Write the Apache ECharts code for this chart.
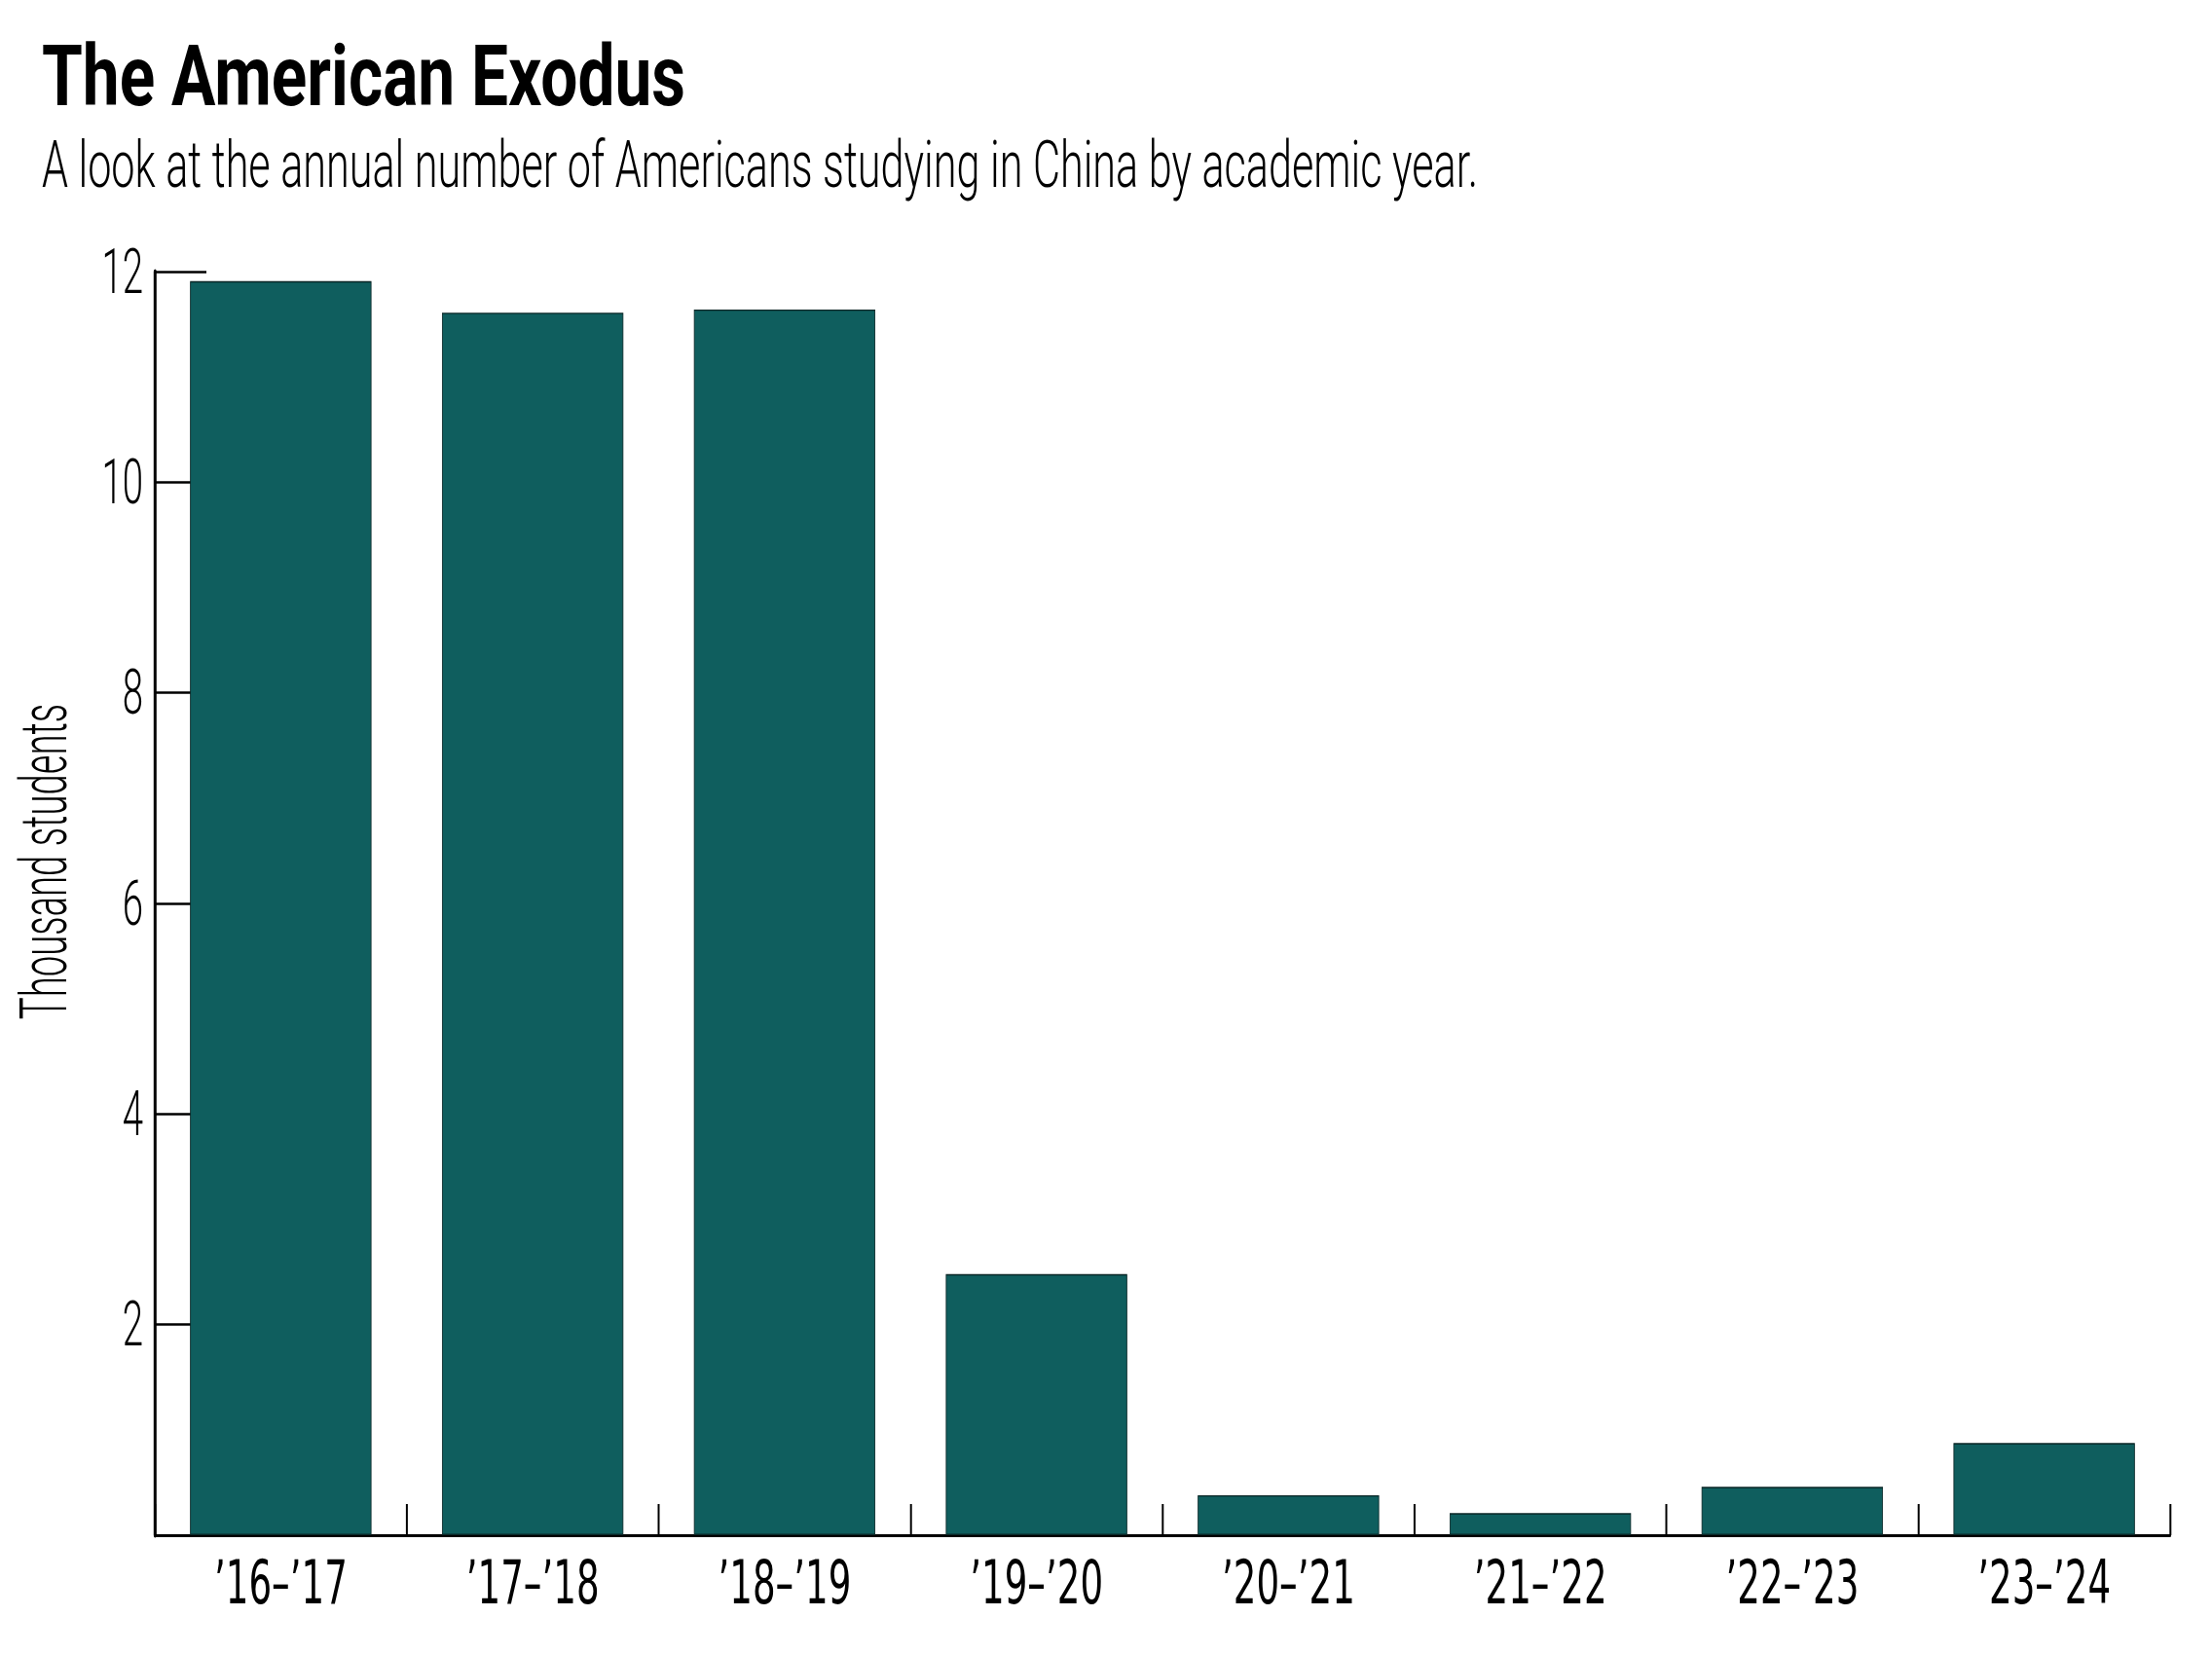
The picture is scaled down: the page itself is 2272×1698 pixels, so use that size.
<!DOCTYPE html>
<html><head><meta charset="utf-8">
<script src="https://cdn.jsdelivr.net/npm/echarts@6/dist/echarts.min.js"></script>
<style>
html,body{margin:0;padding:0;background:#fff;overflow:hidden;width:2272px;height:1698px;}
#chart{position:absolute;left:0;top:0;height:1698px;transform-origin:0 0;}
</style></head><body><div id="chart"></div>
<script>
const titleText = 'The American Exodus';
const subtitleText = 'A look at the annual number of Americans studying in China by academic year.';
const yAxisTitle = 'Thousand students';
const categories = ['’16–’17', '’17–’18', '’18–’19', '’19–’20', '’20–’21', '’21–’22', '’22–’23', '’23–’24'];
const students = [11.91, 11.61, 11.64, 2.48, 0.38, 0.21, 0.46, 0.875];
const yMin = 0, yMax = 12, yStep = 2;

// whole drawing is condensed horizontally (to imitate a condensed typeface)
const S = 0.6;
const W = 2272 / S, H = 1698;
const px = v => v / S;
const el = document.getElementById('chart');
el.style.width = W + 'px';
el.style.transform = 'scaleX(' + S + ')';
const chart = echarts.init(el, null, {renderer: 'svg', width: W, height: H});

const option = {
  animation: false,
  backgroundColor: '#fff',
  grid: {left: px(159), right: px(43), top: 279, bottom: 121, containLabel: false},
  xAxis: {
    type: 'category',
    data: categories,
    axisLine: {lineStyle: {color: '#000', width: 3}},
    axisTick: {show: true, inside: true, length: 32, interval: 0, lineStyle: {color: '#000', width: 2 / S}},
    axisLabel: {color: '#000', fontFamily: 'DejaVu Sans', fontSize: 62, lineHeight: 64, margin: 17, interval: 0}
  },
  yAxis: {
    type: 'value',
    min: yMin, max: yMax, interval: yStep,
    axisLine: {show: true, lineStyle: {color: '#000', width: 3 / S}},
    axisTick: {show: true, inside: true, length: px(53), lineStyle: {color: '#000', width: 2.5}},
    splitLine: {show: false},
    axisLabel: {color: '#000', fontFamily: 'Roboto', fontWeight: 300, fontSize: 64, margin: px(12),
      formatter: v => (v === 0 ? '' : String(v))}
  },
  series: [{
    type: 'bar',
    data: students,
    barCategoryGap: '28%',
    itemStyle: {color: '#0F5E5E', borderColor: '#0a2626', borderWidth: 1.4}
  }],
  graphic: [
    {type: 'text', x: px(43), y: 78, scaleX: 1.28,
      style: {text: titleText, font: 'bold 88px Roboto', fill: '#000', textAlign: 'left', textVerticalAlign: 'middle'}},
    {type: 'text', x: px(43), y: 170, scaleX: 1.09,
      style: {text: subtitleText, font: '300 66px Roboto', fill: '#000', textAlign: 'left', textVerticalAlign: 'middle'}},
    {type: 'text', x: px(45.6), y: 885, rotation: Math.PI / 2, scaleX: 0.58, scaleY: 1 / S,
      style: {text: yAxisTitle, font: '300 66px Roboto', fill: '#000', textAlign: 'center', textVerticalAlign: 'middle'}}
  ]
};
chart.setOption(option);
</script></body></html>
